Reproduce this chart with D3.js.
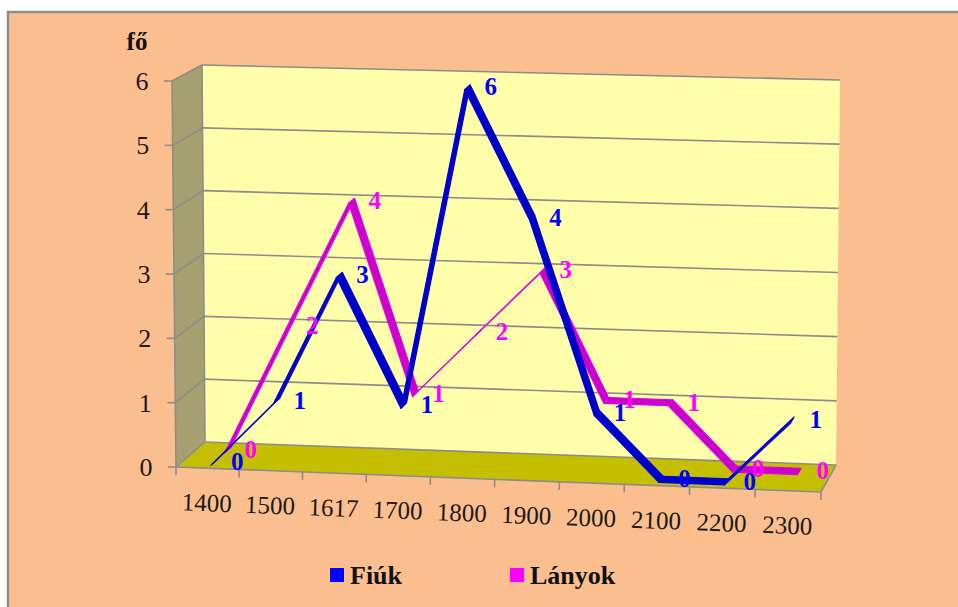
<!DOCTYPE html>
<html><head><meta charset="utf-8">
<script src="https://cdn.jsdelivr.net/npm/d3@7/dist/d3.min.js"></script>
<style>html,body{margin:0;padding:0;background:#fff}svg{display:block}text{font-family:"Liberation Serif",serif}</style>
</head><body><svg id="c" width="958" height="607"></svg>
<script>
const categories = ["1400","1500","1617","1700","1800","1900","2000","2100","2200","2300"];
const fiuk = [0,1,3,1,6,4,1,0,0,1];
const lanyok = [0,2,4,1,2,3,1,1,0,0];
const yTicks = [0,1,2,3,4,5,6];

const svg = d3.select("#c");
const band = d3.scaleBand().domain(categories).range([0,1]);
const v = d3.scaleLinear().domain([0,6]).range([0,1]);

// corners of the 3D box: front-left, front-right, back-left, back-right (bottom/top)
const FLb=[176,467], FRb=[821,492], BLb=[205,442], BRb=[836,465];
const FLt=[172,81], BLt=[202,65], BRt=[840,80];
const FRt=[FRb[0]+(BRt[0]-BRb[0]),FRb[1]-386];
const lerp=(a,b,t)=>[a[0]+(b[0]-a[0])*t,a[1]+(b[1]-a[1])*t];
// slight perspective foreshortening along the category axis
const persp=t=>t-0.024*t*(1-t);
// project(t along x, height fraction, depth fraction)
function P(t0,h,d){
  const t=persp(t0);
  const bot=lerp(lerp(FLb,FRb,t),lerp(BLb,BRb,t),d);
  const top=lerp(lerp(FLt,FRt,t),lerp(BLt,BRt,t),d);
  return lerp(bot,top,h);
}
const poly=(pts,fill,stroke,sw)=>svg.append("polygon").attr("points",pts.map(p=>p.join(",")).join(" ")).attr("fill",fill).attr("stroke",stroke||"none").attr("stroke-width",sw||0).attr("stroke-linejoin","round");
const seg=(a,b,c="#8c8c8c",w=1.6)=>svg.append("line").attr("x1",a[0]).attr("y1",a[1]).attr("x2",b[0]).attr("y2",b[1]).attr("stroke",c).attr("stroke-width",w);

// page
svg.append("rect").attr("width",958).attr("height",607).attr("fill","#fff");
svg.append("rect").attr("x",7).attr("y",11).attr("width",951).attr("height",596).attr("fill","#FBBF8F");
seg([7,12],[958,12],"#8c8c8c",2.4);
seg([8,11],[8,607],"#8c8c8c",2.4);

// walls
poly([BLb,BRb,BRt,BLt],"#FFFFAB");
poly([FLb,BLb,BLt,FLt],"#A6A070");
poly([FLb,FRb,BRb,BLb],"#C4BF00");

// gridlines
yTicks.forEach(k=>{
  const h=v(k);
  if(k>0) seg(P(0,h,1),P(1,h,1));
  seg(P(0,h,0),P(0,h,1));
  seg(P(0,h,0),[P(0,h,0)[0]-8,P(0,h,0)[1]]);
  svg.append("text").attr("x",P(0,h,0)[0]-30).attr("y",P(0,h,0)[1]+9).attr("text-anchor","middle").attr("font-size",26).attr("fill","#1a1a1a").text(k);
});
seg(FLb,FLt); seg(BLb,BLt); seg(BLb,BRb); seg(BRb,FRb); seg(FLb,FRb);

// x ticks and labels
d3.range(categories.length+1).forEach(i=>{
  const t=i/categories.length, p=P(t,0,0);
  seg(p,[p[0],p[1]+8]);
});
categories.forEach(c=>{
  const t=band(c)+band.bandwidth()/2, p=P(t,0,0);
  svg.append("text").attr("transform",`translate(${p[0]-1},${p[1]+43}) rotate(2)`).attr("text-anchor","middle").attr("font-size",25).attr("fill","#1a1a1a").text(c);
});

// ribbons
function ribbon(vals,d0,d1,fill,edge){
  const t=c=>band(c)+band.bandwidth()/2;
  vals.forEach((val,i)=>{
    if(i===vals.length-1) return;
    const a=t(categories[i]),b=t(categories[i+1]),h0=v(val),h1=v(vals[i+1]);
    poly([P(a,h0,d0),P(b,h1,d0),P(b,h1,d1),P(a,h0,d1)],fill,edge,1.2);
  });
}
function labels(vals,d0,color){
  const t=c=>band(c)+band.bandwidth()/2;
  vals.forEach((val,i)=>{
    const p=P(t(categories[i]),v(val),d0);
    svg.append("text").attr("x",p[0]+24).attr("y",p[1]+7).attr("text-anchor","middle").attr("font-size",25).attr("font-weight","bold").attr("fill",color).text(val);
  });
}
ribbon(lanyok,0.60,0.83,"#CC00CC","#E000E0");
ribbon(fiuk,0.12,0.35,"#0000C8","#0000D8");
labels(fiuk,0.2,"#0000FF");
labels(lanyok,0.68,"#FF00FF");

// axis title
svg.append("text").attr("x",137).attr("y",50).attr("text-anchor","middle").attr("font-size",25).attr("font-weight","bold").attr("fill","#111").text("fő");

// legend
const legend=[["Fiúk","#0000FF",330],["Lányok","#FF00FF",510]];
legend.forEach(([n,c,x])=>{
  svg.append("rect").attr("x",x).attr("y",568).attr("width",14).attr("height",14).attr("fill",c);
  svg.append("text").attr("x",x+20).attr("y",584).attr("font-size",26).attr("font-weight","bold").attr("fill","#111").text(n);
});
</script></body></html>
